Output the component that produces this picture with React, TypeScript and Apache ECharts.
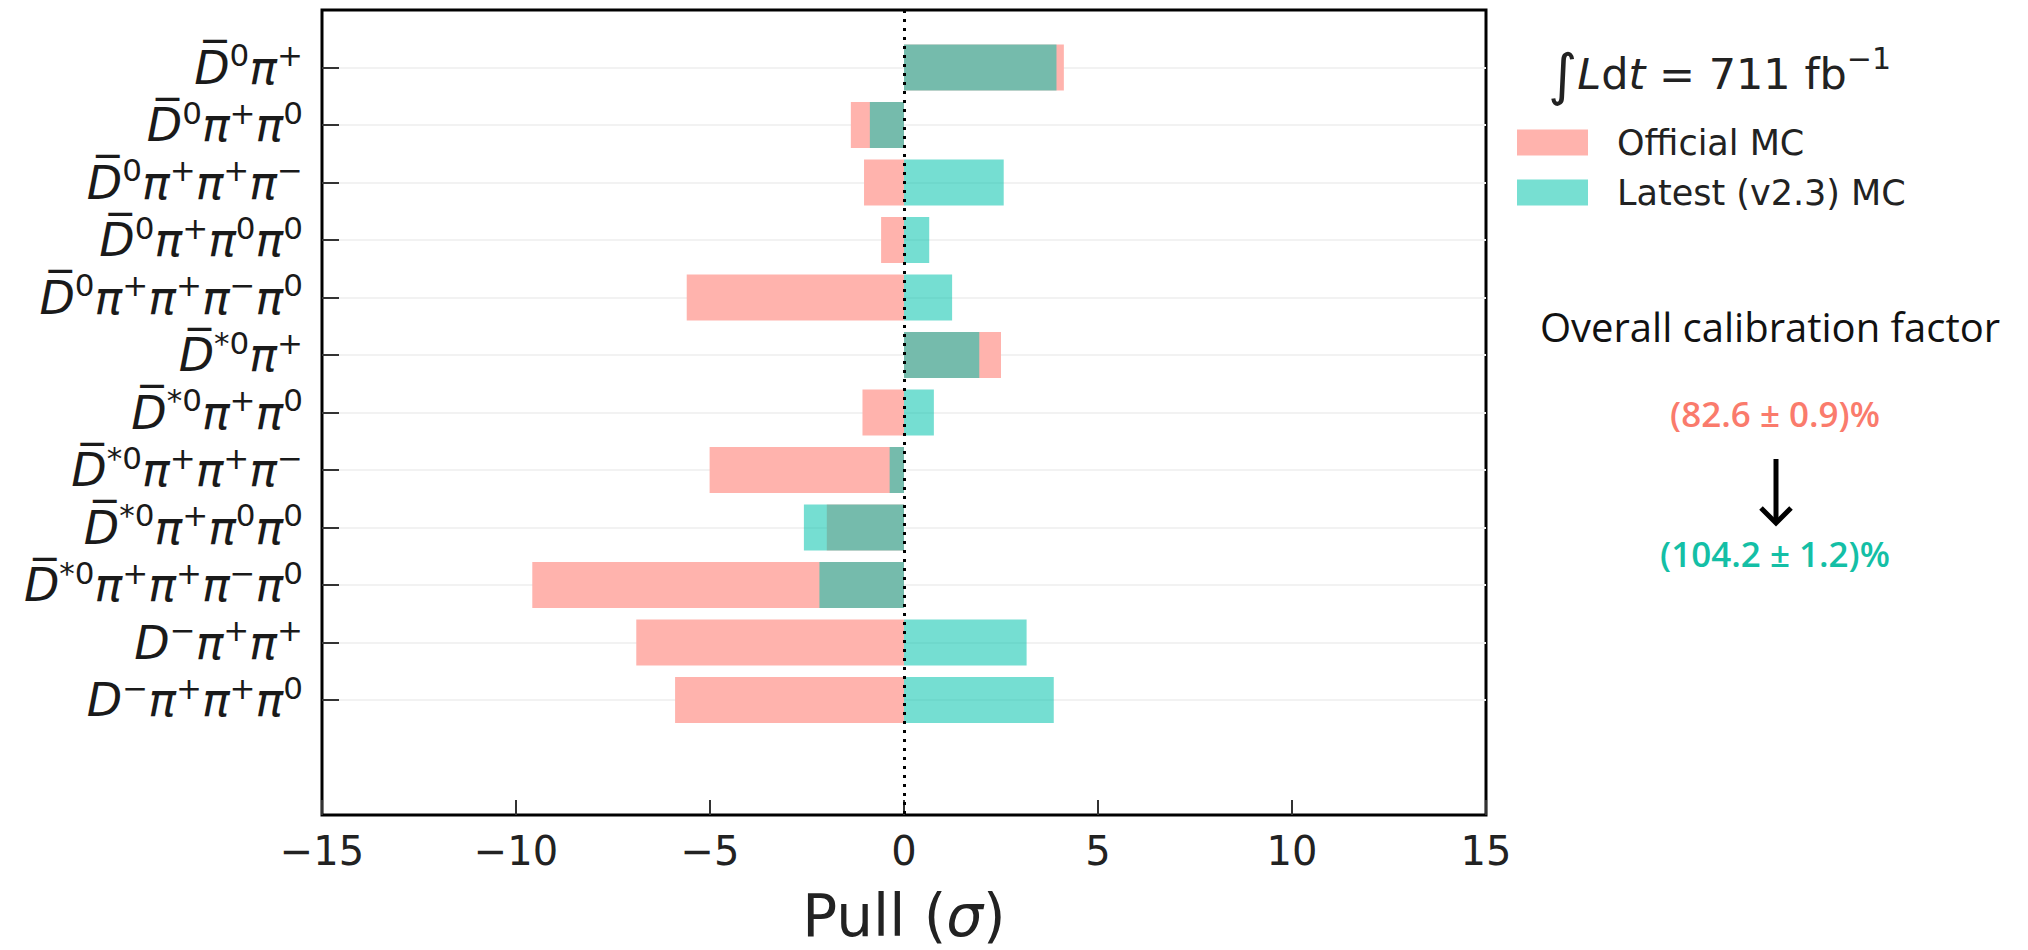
import React, { useEffect, useRef } from 'react';
import * as echarts from 'echarts';

// Decay channels (top to bottom)
const categories = [
  'D\u0305⁰π⁺',
  'D\u0305⁰π⁺π⁰',
  'D\u0305⁰π⁺π⁺π⁻',
  'D\u0305⁰π⁺π⁰π⁰',
  'D\u0305⁰π⁺π⁺π⁻π⁰',
  'D\u0305*⁰π⁺',
  'D\u0305*⁰π⁺π⁰',
  'D\u0305*⁰π⁺π⁺π⁻',
  'D\u0305*⁰π⁺π⁰π⁰',
  'D\u0305*⁰π⁺π⁺π⁻π⁰',
  'D⁻π⁺π⁺',
  'D⁻π⁺π⁺π⁰',
];
const officialMC = [4.12, -1.37, -1.03, -0.59, -5.6, 2.5, -1.07, -5.01, -1.99, -9.58, -6.9, -5.9];
const latestMC = [3.93, -0.88, 2.57, 0.65, 1.24, 1.94, 0.77, -0.37, -2.58, -2.18, 3.16, 3.86];
const xTicks = [-15, -10, -5, 0, 5, 10, 15];
const seriesNames = ['Official MC', 'Latest (v2.3) MC'];
const lumiText = { value: '711', unit: 'fb' };
const calibTitle = 'Overall calibration factor';
const calibOld = '(82.6 ± 0.9)%';
const calibNew = '(104.2 ± 1.2)%';

const SUP: Record<string, string> = { '⁰': '0', '⁺': '+', '⁻': '−', '*': '*' };

function toRich(s: string): string {
  if (!s) return '';
  let out = '';
  let mode = '';
  let buf = '';
  const flush = () => {
    if (buf) out += `{${mode}|${buf}}`;
    buf = '';
  };
  for (const ch of s) {
    const m = ch in SUP ? 's' : 'b';
    const c = SUP[ch] ?? ch;
    if (m !== mode) {
      flush();
      mode = m;
    }
    buf += c;
  }
  flush();
  return out;
}

export default function App() {
  const ref = useRef<HTMLDivElement>(null);

  useEffect(() => {
    if (!ref.current) return;
    const chart = echarts.init(ref.current, undefined, { renderer: 'svg' });

    // y positions -1 .. 13 : one blank slot above, two below
    const cats = ['', ...categories, '', ''];
    const pad = (arr: number[]) => [null, ...arr, null, null];
    const isReal = (_i: number, v: string) => v !== '';

    const option: any = {
      animation: false,
      backgroundColor: '#fff',
      grid: {
        left: 322,
        top: 10,
        width: 1164,
        height: 807,
        show: true,
        borderColor: '#000',
        borderWidth: 3,
        backgroundColor: 'transparent',
      },
      legend: {
        orient: 'vertical',
        left: 1517,
        top: 125,
        padding: 0,
        itemWidth: 71,
        itemHeight: 26,
        itemGap: 15,
        icon: 'rect',
        selectedMode: false,
        textStyle: {
          fontFamily: 'DejaVu Sans',
          fontSize: 35,
          color: '#222',
          lineHeight: 26,
          padding: [0, 0, 0, 24],
        },
        data: [
          { name: seriesNames[0], itemStyle: { color: '#FFB3AD', opacity: 1 } },
          { name: seriesNames[1], itemStyle: { color: '#77DFD2', opacity: 1 } },
        ],
      },
      xAxis: {
        type: 'value',
        min: xTicks[0],
        max: xTicks[xTicks.length - 1],
        interval: 5,
        axisLine: { show: false, onZero: false },
        axisTick: { show: true, inside: true, length: 15, lineStyle: { color: '#333', width: 2 } },
        splitLine: { show: false },
        axisLabel: {
          margin: 16,
          fontFamily: 'DejaVu Sans',
          fontSize: 40,
          color: '#222',
          formatter: (v: number) => (v < 0 ? '−' + Math.abs(v) : String(v)),
        },
        name: 'Pull ({i|σ})',
        nameLocation: 'middle',
        nameGap: 72,
        nameTextStyle: {
          fontFamily: 'DejaVu Sans',
          fontSize: 58,
          color: '#222',
          rich: {
            i: { fontFamily: 'DejaVu Sans', fontSize: 58, fontStyle: 'italic', color: '#222' },
          },
        },
      },
      yAxis: {
        type: 'category',
        inverse: true,
        boundaryGap: false,
        data: cats,
        axisLine: { show: false, onZero: false },
        axisTick: {
          show: true,
          inside: true,
          length: 17,
          interval: isReal,
          lineStyle: { color: '#333', width: 2 },
        },
        splitLine: {
          show: true,
          interval: isReal,
          lineStyle: { color: '#f2f2f2', width: 2 },
        },
        axisLabel: {
          margin: 19,
          interval: 0,
          formatter: (v: string) => toRich(v),
          rich: {
            b: {
              fontFamily: 'DejaVu Sans',
              fontStyle: 'italic',
              fontSize: 46,
              lineHeight: 56,
              color: '#1a1a1a',
            },
            s: {
              fontFamily: 'DejaVu Sans',
              fontSize: 31,
              lineHeight: 34,
              verticalAlign: 'top',
              color: '#1a1a1a',
            },
          },
        },
      },
      series: [
        {
          name: seriesNames[0],
          type: 'bar',
          data: pad(officialMC),
          barWidth: '80%',
          barGap: '-100%',
          itemStyle: { color: '#FFB3AD' },
          silent: true,
        },
        {
          name: seriesNames[1],
          type: 'bar',
          data: pad(latestMC),
          barWidth: '80%',
          barGap: '-100%',
          itemStyle: { color: 'rgba(0,194,172,0.54)' },
          silent: true,
          markLine: {
            silent: true,
            symbol: ['none', 'none'],
            label: { show: false },
            lineStyle: { color: '#000', type: [3, 6], width: 3 },
            data: [{ xAxis: 0 }],
          },
        },
      ],
      graphic: [
        {
          type: 'text',
          x: 1548,
          y: 74,
          style: {
            text: `{int|∫}{it|L}{rm|d}{it|t}{rm| = ${lumiText.value} ${lumiText.unit}}{sup|−1}`,
            textVerticalAlign: 'middle',
            textAlign: 'left',
            rich: {
              int: { fontFamily: 'DejaVu Sans', fontSize: 56, lineHeight: 62, fill: '#222' },
              it: { fontFamily: 'DejaVu Sans', fontStyle: 'italic', fontSize: 43, lineHeight: 62, fill: '#222' },
              rm: { fontFamily: 'DejaVu Sans', fontSize: 43, lineHeight: 62, fill: '#222' },
              sup: {
                fontFamily: 'DejaVu Sans',
                fontSize: 30,
                lineHeight: 40,
                verticalAlign: 'top',
                fill: '#222',
              },
            },
          },
        },
        {
          type: 'text',
          x: 1770,
          y: 326,
          style: {
            text: calibTitle,
            font: '40px "Open Sans"',
            fill: '#111',
            textAlign: 'center',
            textVerticalAlign: 'middle',
          },
        },
        {
          type: 'text',
          x: 1775,
          y: 413,
          style: {
            text: calibOld,
            font: '600 35px "Open Sans"',
            fill: '#FA7B6C',
            textAlign: 'center',
            textVerticalAlign: 'middle',
          },
        },
        {
          type: 'line',
          shape: { x1: 1776, y1: 459, x2: 1776, y2: 522 },
          style: { stroke: '#000', lineWidth: 5 },
        },
        {
          type: 'polyline',
          shape: { points: [[1761, 508], [1776, 523], [1791, 508]] },
          style: { stroke: '#000', lineWidth: 5, fill: 'none' },
        },
        {
          type: 'text',
          x: 1775,
          y: 553,
          style: {
            text: calibNew,
            font: '600 35px "Open Sans"',
            fill: '#14BFA6',
            textAlign: 'center',
            textVerticalAlign: 'middle',
          },
        },
      ],
    };

    chart.setOption(option);
    return () => chart.dispose();
  }, []);

  return (
    <div
      ref={ref}
      style={{ position: 'fixed', left: 0, top: 0, width: 2028, height: 950, background: '#fff' }}
    />
  );
}
